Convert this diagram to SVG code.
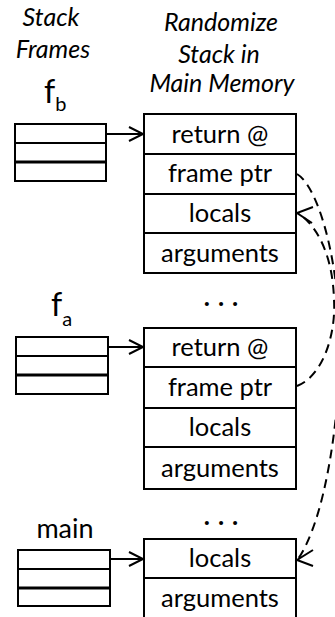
<svg xmlns="http://www.w3.org/2000/svg" width="335" height="617" viewBox="0 0 335 617">
<style>
.box{fill:#fff;stroke:#000;stroke-width:2}
.div{stroke:#000;stroke-width:2}
.thk{stroke:#000;stroke-width:3}
.t{font-family:Lato,"Open Sans",sans-serif;font-size:25.5px;fill:#000;text-anchor:middle}
.h{font-family:Lato,"Open Sans",sans-serif;font-size:25px;font-style:italic;fill:#000;text-anchor:middle}
.f{font-family:Lato,"Open Sans",sans-serif;fill:#000}
.dot{font-family:Lato,"Open Sans",sans-serif;font-size:26px;font-weight:bold;fill:#000;text-anchor:middle}
.ar{fill:none;stroke:#000;stroke-width:2}
.ds{fill:none;stroke:#000;stroke-width:2;stroke-dasharray:9,6}
</style>
<rect width="335" height="617" fill="#fff"/>
<g id="titles">
<text class="h" x="51" y="26">Stack</text>
<text class="h" x="53" y="58">Frames</text>
<text class="h" x="221" y="31">Randomize</text>
<text class="h" x="219" y="63">Stack in</text>
<text class="h" x="222" y="92">Main Memory</text>
</g>
<g id="frame-fb">
<text class="f" x="44" y="103" font-size="32">f<tspan font-size="20" dy="8">b</tspan></text>
<rect class="box" x="15" y="124" width="91" height="57"/>
<line class="div" x1="15" y1="143" x2="106" y2="143"/>
<line class="thk" x1="15" y1="162" x2="106" y2="162"/>
</g>
<g id="frame-fa">
<text class="f" x="51" y="316" font-size="32">f<tspan font-size="20" dy="10">a</tspan></text>
<rect class="box" x="16" y="337" width="92" height="57"/>
<line class="div" x1="16" y1="356" x2="108" y2="356"/>
<line class="thk" x1="16" y1="375" x2="108" y2="375"/>
</g>
<g id="frame-main">
<text class="f" x="65" y="538" font-size="27" text-anchor="middle">main</text>
<rect class="box" x="18" y="550" width="92" height="56"/>
<line class="div" x1="18" y1="569" x2="110" y2="569"/>
<line class="thk" x1="18" y1="588" x2="110" y2="588"/>
</g>
<g id="mem-fb">
<rect class="box" x="144" y="114" width="152" height="159"/>
<line class="div" x1="144" y1="154" x2="296" y2="154"/>
<line class="div" x1="144" y1="194" x2="296" y2="194"/>
<line class="div" x1="144" y1="233" x2="296" y2="233"/>
<text class="t" x="220" y="143">return @</text>
<text class="t" x="220" y="182">frame ptr</text>
<text class="t" x="220" y="222">locals</text>
<text class="t" x="220" y="262">arguments</text>
</g>
<g id="dots1"><text class="dot" x="225" y="306" letter-spacing="8">...</text></g>
<g id="mem-fa">
<rect class="box" x="144" y="328" width="152" height="161"/>
<line class="div" x1="144" y1="367" x2="296" y2="367"/>
<line class="div" x1="144" y1="408" x2="296" y2="408"/>
<line class="div" x1="144" y1="447" x2="296" y2="447"/>
<text class="t" x="220" y="356">return @</text>
<text class="t" x="220" y="396">frame ptr</text>
<text class="t" x="220" y="436">locals</text>
<text class="t" x="220" y="477">arguments</text>
</g>
<g id="dots2"><text class="dot" x="225" y="525" letter-spacing="8">...</text></g>
<g id="mem-main">
<rect class="box" x="144" y="539" width="152" height="90"/>
<line class="div" x1="144" y1="578" x2="296" y2="578"/>
<text class="t" x="220" y="567">locals</text>
<text class="t" x="220" y="607">arguments</text>
</g>
<g id="connectors">
<line class="ar" x1="106" y1="134" x2="143" y2="134"/>
<polyline class="ar" points="129,127 143,134 129,141"/>
<line class="ar" x1="108" y1="347" x2="143" y2="347"/>
<polyline class="ar" points="129,340 143,347 129,354"/>
<line class="ar" x1="110" y1="559" x2="143" y2="559"/>
<polyline class="ar" points="129,552 143,559 129,566"/>
<path class="ds" d="M297,174 C316,185 338,250 340,340 C340,420 325,520 298,559"/>
<polyline class="ar" points="313,550 297,560 313,566"/>
<path class="ds" d="M297,386 C325,375 336,330 334,300 C333,260 320,228 298,213"/>
<polyline class="ar" points="313,207 297,213 312,223"/>
</g>
</svg>
